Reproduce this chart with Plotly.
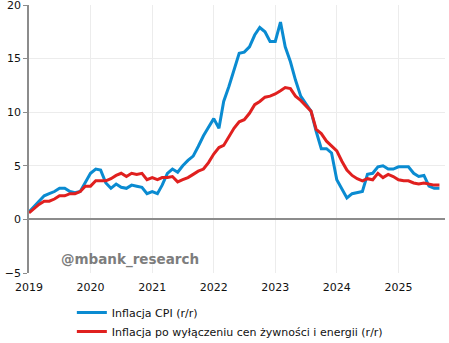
import pandas as pd
import plotly.graph_objects as go

# Monthly y/y inflation in Poland, Jan 2019 - Sep 2025 (%)
months = pd.date_range("2019-01-01", "2025-09-01", freq="MS")

cpi = [
    0.7, 1.2, 1.7, 2.2, 2.4, 2.6, 2.9, 2.9, 2.6, 2.5, 2.6, 3.4,    # 2019
    4.3, 4.7, 4.6, 3.4, 2.9, 3.3, 3.0, 2.9, 3.2, 3.1, 3.0, 2.4,    # 2020
    2.6, 2.4, 3.2, 4.3, 4.7, 4.4, 5.0, 5.5, 5.9, 6.8, 7.8, 8.6,    # 2021
    9.4, 8.5, 11.0, 12.4, 13.9, 15.5, 15.6, 16.1, 17.2, 17.9, 17.5, 16.6,  # 2022
    16.6, 18.4, 16.1, 14.7, 13.0, 11.5, 10.8, 10.1, 8.2, 6.6, 6.6, 6.2,    # 2023
    3.7, 2.8, 2.0, 2.4, 2.5, 2.6, 4.2, 4.3, 4.9, 5.0, 4.7, 4.7,    # 2024
    4.9, 4.9, 4.9, 4.3, 4.0, 4.1, 3.1, 2.9, 2.9,                   # 2025
]

core = [
    0.6, 1.0, 1.4, 1.7, 1.7, 1.9, 2.2, 2.2, 2.4, 2.4, 2.6, 3.1,    # 2019
    3.1, 3.6, 3.6, 3.6, 3.8, 4.1, 4.3, 4.0, 4.3, 4.2, 4.3, 3.7,    # 2020
    3.9, 3.7, 3.9, 3.9, 4.0, 3.5, 3.7, 3.9, 4.2, 4.5, 4.7, 5.3,    # 2021
    6.1, 6.7, 6.9, 7.7, 8.5, 9.1, 9.3, 9.9, 10.7, 11.0, 11.4, 11.5,  # 2022
    11.7, 12.0, 12.3, 12.2, 11.5, 11.1, 10.6, 10.1, 8.4, 8.0, 7.3, 6.9,  # 2023
    6.4, 5.4, 4.6, 4.1, 3.8, 3.6, 3.8, 3.7, 4.3, 3.9, 4.2, 4.0,    # 2024
    3.7, 3.6, 3.6, 3.4, 3.3, 3.4, 3.3, 3.2, 3.2,                   # 2025
]

series_names = [
    "Inflacja CPI (r/r)",
    "Inflacja po wyłączeniu cen żywności i energii (r/r)",
]
series_colors = ["#0A8BD1", "#E0201F"]

y_ticks = [-5, 0, 5, 10, 15, 20]

FONT = "DejaVu Sans, Verdana, sans-serif"

fig = go.Figure()
for name, values, color in zip(series_names, [cpi, core], series_colors):
    fig.add_trace(go.Scatter(
        x=months, y=values, name=name, mode="lines",
        line=dict(color=color, width=3),
    ))

fig.add_annotation(
    text="@mbank_research", xref="paper", yref="y",
    x=0.072, y=-3.7, xanchor="left", yanchor="middle", showarrow=False,
    font=dict(family=FONT, size=13.5, color="#7d7d7d", weight="bold"),
)

fig.update_layout(
    width=449, height=343,
    margin=dict(l=29, r=4, t=5, b=70, autoexpand=False),
    paper_bgcolor="white", plot_bgcolor="white",
    font=dict(family=FONT, size=11, color="#111111"),
    showlegend=True,
    legend=dict(
        orientation="v", x=0.103, xanchor="left", y=-0.093, yanchor="top",
        font=dict(family=FONT, size=11, color="#111111"),
        bgcolor="rgba(0,0,0,0)", tracegroupgap=0, itemwidth=30,
    ),
    xaxis=dict(
        type="date", range=["2019-01-01", "2025-10-04"],
        dtick="M12", tick0="2019-01-01", tickformat="%Y",
        showgrid=True, gridcolor="#ececec", gridwidth=1,
        showline=False, zeroline=False, ticks="",
        ticklabelstandoff=6,
        tickfont=dict(family=FONT, size=11, color="#111111"),
    ),
    yaxis=dict(
        range=[-5, 20], tickvals=y_ticks,
        showgrid=True, gridcolor="#ececec", gridwidth=1,
        zeroline=True, zerolinecolor="#8c8c8c", zerolinewidth=1.5,
        showline=True, linecolor="#8c8c8c", linewidth=1.5,
        ticks="outside", ticklen=4, tickcolor="#8c8c8c", tickwidth=1,
        ticklabeloverflow="allow",
        tickfont=dict(family=FONT, size=11, color="#111111"),
    ),
)

fig.write_html("out.html")
